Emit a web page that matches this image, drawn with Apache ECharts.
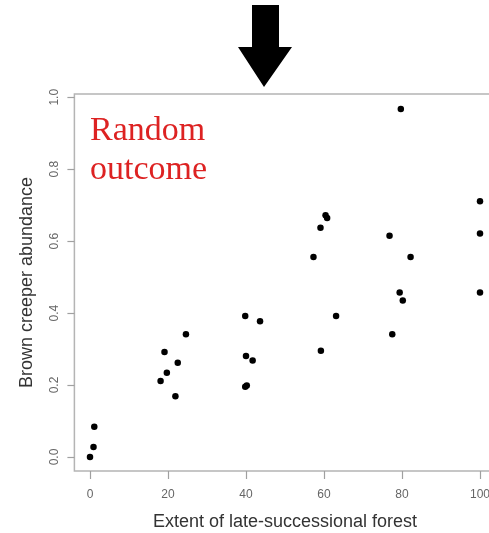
<!DOCTYPE html>
<html>
<head>
<meta charset="utf-8">
<script src="https://cdn.jsdelivr.net/npm/echarts@6/dist/echarts.min.js"></script>
<style>
html,body{margin:0;padding:0;background:#fff;}
#chart{width:489px;height:533px;}
</style>
</head>
<body>
<div id="chart"></div>
<script>
// Extent of late-successional forest (x) vs Brown creeper abundance (y)
var forestExtent = [0, 0.9, 1.1, 18.1, 19.1, 19.7, 21.9, 22.5, 24.6,
  39.8, 40.0, 39.8, 40.2, 43.6, 41.7,
  57.3, 59.1, 59.2, 60.4, 60.8, 63.1,
  76.8, 77.5, 79.4, 79.7, 80.2, 82.2,
  100, 100, 100];
var creeperAbundance = [0.0, 0.028, 0.084, 0.211, 0.292, 0.234, 0.169, 0.262, 0.341,
  0.392, 0.281, 0.195, 0.199, 0.377, 0.268,
  0.556, 0.637, 0.295, 0.672, 0.664, 0.392,
  0.615, 0.341, 0.457, 0.967, 0.435, 0.556,
  0.711, 0.621, 0.457];
var xTicks = [0, 20, 40, 60, 80, 100];
var yTicks = [0, 0.2, 0.4, 0.6, 0.8, 1.0];
var xTitle = 'Extent of late-successional forest';
var yTitle = 'Brown creeper abundance';
var annotation = 'Random\noutcome';

var points = forestExtent.map(function (x, i) { return [x, creeperAbundance[i]]; });

var chart = echarts.init(document.getElementById('chart'), null, {renderer: 'canvas'});
var tickColor = '#a0a0a0';
chart.setOption({
  animation: false,
  backgroundColor: '#ffffff',
  grid: {
    left: 74.4, top: 94, width: 421.2, height: 377,
    outerBoundsMode: 'none', containLabel: false,
    show: true, borderColor: '#b4b4b4', borderWidth: 1.5, backgroundColor: 'transparent'
  },
  xAxis: {
    type: 'value', min: -4, max: 104,
    name: xTitle, nameLocation: 'middle', nameGap: 42,
    nameTextStyle: {fontFamily: 'Liberation Sans, Arial, sans-serif', fontSize: 18, color: '#333'},
    axisLine: {show: false, onZero: false},
    axisTick: {show: true, length: 8, lineStyle: {color: tickColor, width: 1.2}, customValues: xTicks},
    axisLabel: {show: true, customValues: xTicks, margin: 18, fontSize: 12, color: '#666',
      fontFamily: 'Liberation Sans, Arial, sans-serif'},
    splitLine: {show: false}
  },
  yAxis: {
    type: 'value', min: -0.039, max: 1.009,
    name: yTitle, nameLocation: 'middle', nameGap: 38, nameRotate: 90,
    nameTextStyle: {fontFamily: 'Liberation Sans, Arial, sans-serif', fontSize: 18, color: '#333'},
    axisLine: {show: false, onZero: false},
    axisTick: {show: true, length: 7, lineStyle: {color: tickColor, width: 1.2}, customValues: yTicks},
    axisLabel: {show: true, customValues: yTicks, rotate: 90, margin: 14, fontSize: 12, color: '#666',
      fontFamily: 'Liberation Sans, Arial, sans-serif',
      formatter: function (v) { return v.toFixed(1); }},
    splitLine: {show: false}
  },
  series: [{
    type: 'scatter',
    data: points,
    symbol: 'circle',
    symbolSize: 6.5,
    itemStyle: {color: '#000', opacity: 1},
    clip: false
  }],
  graphic: [
    {
      type: 'polygon',
      shape: {points: [[252, 5], [279, 5], [279, 47], [292, 47], [264, 87], [238, 47], [252, 47]]},
      style: {fill: '#000'}
    },
    {
      type: 'text',
      left: 90, top: 112,
      style: {
        text: annotation,
        font: '34px "Liberation Serif", "Times New Roman", serif',
        fill: '#dd2222',
        lineHeight: 39
      }
    }
  ]
});
</script>
</body>
</html>
